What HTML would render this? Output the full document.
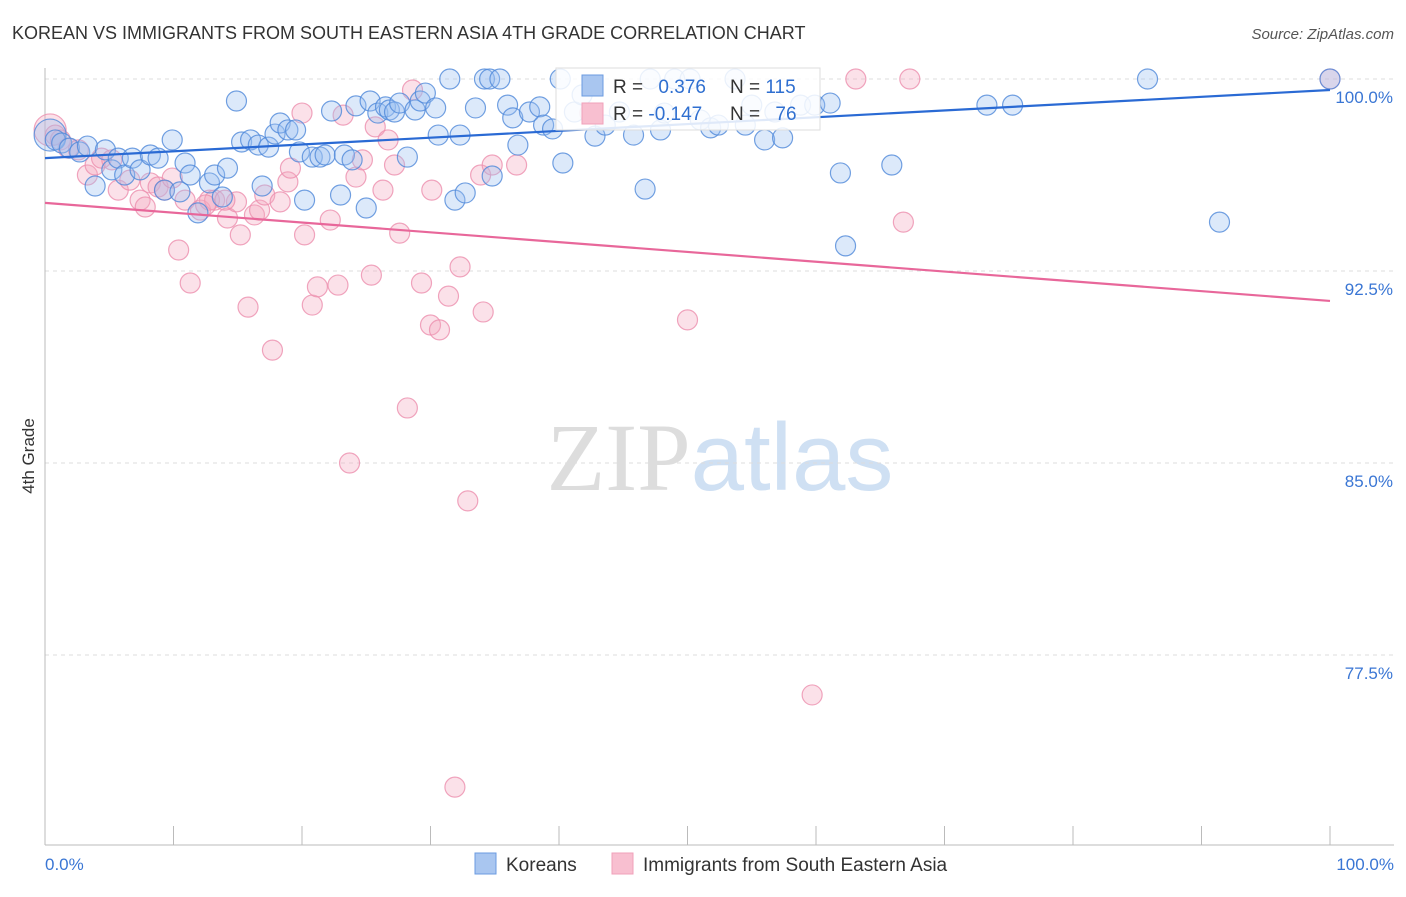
<!DOCTYPE html>
<html><head><meta charset="utf-8">
<style>
body{margin:0;background:#fff;font-family:"Liberation Sans",sans-serif;}
svg text{font-family:"Liberation Sans",sans-serif;}
</style></head>
<body>
<svg id="chart" width="1406" height="892" xmlns="http://www.w3.org/2000/svg">
<text x="12" y="39" font-size="18" fill="#333">KOREAN VS IMMIGRANTS FROM SOUTH EASTERN ASIA 4TH GRADE CORRELATION CHART</text>
<text x="1394" y="39" font-size="15" fill="#555" text-anchor="end" font-style="italic">Source: ZipAtlas.com</text>
<text x="720" y="490" font-size="96" text-anchor="middle"><tspan fill="#ddd" font-family="Liberation Serif">ZIP</tspan><tspan fill="#cfe0f3">atlas</tspan></text>
<g id="grid"></g>
<g id="axes"></g>
<g id="pts"></g>
<g id="trends"></g>
<text transform="translate(34,456) rotate(-90)" font-size="17" fill="#333" text-anchor="middle">4th Grade</text>
<g>
<rect x="556" y="68" width="264" height="62" fill="#fff" fill-opacity="0.85" stroke="#ddd"/>
<rect x="582" y="75" width="21" height="21" fill="#a9c6f0" stroke="#6b9be0"/>
<rect x="582" y="103" width="21" height="21" fill="#f8bfd0" stroke="#f0a0ba"/>
<text x="613" y="93" font-size="19" fill="#333">R = <tspan fill="#2f6fd0" dx="10">0.376</tspan></text>
<text x="730" y="93" font-size="19" fill="#333">N = <tspan fill="#2f6fd0">115</tspan></text>
<text x="613" y="120" font-size="19" fill="#333">R = <tspan fill="#2f6fd0">-0.147</tspan></text>
<text x="730" y="120" font-size="19" fill="#333">N = <tspan fill="#2f6fd0" dx="10">76</tspan></text>
</g>
<g>
<rect x="475" y="853" width="21" height="21" fill="#a9c6f0" stroke="#6b9be0"/>
<text x="506" y="871" font-size="19" fill="#333">Koreans</text>
<rect x="612" y="853" width="21" height="21" fill="#f8bfd0" stroke="#f0a0ba"/>
<text x="643" y="871" font-size="19" fill="#333">Immigrants from South Eastern Asia</text>
</g>
</svg>
<script>
const yTicks=[100,92.5,85,77.5];
const yTickLabels=["100.0%","92.5%","85.0%","77.5%"];
const xTickLabels=["0.0%","100.0%"];
const koreanX=[0.4,0.8,1.3,1.9,2.7,3.3,3.9,4.7,5.2,5.7,6.2,6.8,7.4,8.2,8.8,9.3,9.9,10.5,10.9,11.3,11.9,12.8,13.2,13.8,14.2,14.9,15.3,16.0,16.6,16.9,17.4,17.9,18.3,18.9,19.5,19.8,20.2,20.8,21.4,21.8,22.3,23.0,23.3,23.9,24.2,25.0,25.3,25.9,26.5,26.8,27.2,27.6,28.2,28.8,29.2,29.6,30.4,30.6,31.5,31.9,32.3,32.7,33.5,34.2,34.6,34.8,35.4,36.0,36.4,36.8,37.7,38.5,38.8,39.5,40.1,40.3,41.2,41.8,42.8,43.6,44.7,45.8,46.7,47.1,47.9,48.2,49.0,50.2,51.0,51.8,52.4,53.7,54.5,55.0,56.0,56.8,57.4,58.8,59.9,61.1,61.9,62.3,65.9,73.3,75.3,85.8,91.4,100];
const koreanY=[97.81,97.62,97.5,97.3,97.15,97.38,95.82,97.23,96.45,96.91,96.25,96.91,96.45,97.03,96.91,95.66,97.62,95.59,96.72,96.25,94.77,95.94,96.25,95.39,96.52,99.14,97.54,97.62,97.42,95.82,97.34,97.85,98.28,98.01,98.01,97.15,95.27,96.95,96.95,97.03,98.75,95.47,97.03,96.84,98.95,94.96,99.14,98.67,98.91,98.79,98.71,99.06,96.95,98.79,99.14,99.45,98.87,97.81,100,95.27,97.81,95.55,98.87,100,100,96.21,100,98.98,98.48,97.42,98.71,98.91,98.2,98.05,100,96.72,98.71,99.38,97.77,98.2,98.71,97.81,95.7,100,98.01,98.67,100,100,98.4,98.09,98.2,100,98.2,98.98,97.62,98.71,97.7,98.98,98.98,99.06,96.33,93.48,96.64,98.98,98.98,100,94.41,100];
const seaX=[0.4,0.8,1.2,1.8,2.6,3.3,3.9,4.4,5.2,5.7,6.6,7.4,7.8,8.2,8.8,9.3,9.9,10.4,10.9,11.3,12.1,12.8,13.2,14.2,14.9,15.2,15.8,16.3,16.7,17.1,17.7,18.3,18.9,19.1,20.0,20.2,20.8,21.2,22.2,22.8,23.2,23.7,24.2,24.7,25.4,25.7,26.3,26.7,27.2,27.6,28.2,28.6,29.3,30.0,30.1,30.7,31.4,32.3,32.9,33.9,34.1,34.8,36.7,31.9,50.0,59.7,63.1,66.8,67.3,100,42.4,12.5,14.0];
const seaY=[98.01,97.81,97.62,97.3,97.23,96.25,96.64,96.91,96.84,95.66,96.05,95.27,95.0,95.94,95.78,95.66,96.13,93.32,95.27,92.03,94.88,95.27,95.27,94.57,95.2,93.91,91.09,94.69,94.88,95.47,89.41,95.2,95.98,96.52,98.67,93.91,91.17,91.88,94.49,91.95,98.59,85.0,96.17,96.84,92.34,98.13,95.66,97.62,96.64,93.98,87.15,99.57,92.03,90.39,95.66,90.2,91.52,92.66,83.52,96.25,90.9,96.64,96.64,72.34,90.59,75.94,100,94.41,100,100,98.67,95.08,95.27];
const koreanTrend=[96.91,99.57];
const seaTrend=[95.16,91.33];

const NS="http://www.w3.org/2000/svg";
const L=45,R=1330,TOP=68,BOT=845;
const sx=v=>L+v*(R-L)/100;
const sy=v=>79+(100-v)*25.6;
function mk(tag,attrs,parent){const e=document.createElementNS(NS,tag);for(const k in attrs)e.setAttribute(k,attrs[k]);parent.appendChild(e);return e;}
const grid=document.getElementById('grid'),axes=document.getElementById('axes'),pts=document.getElementById('pts'),tr=document.getElementById('trends');
yTicks.forEach((t,i)=>{
 const g=mk('line',{x1:L,x2:1394,y1:sy(t),y2:sy(t),stroke:'#ddd','stroke-dasharray':'4,4'},grid);
 
 
 const tx=mk('text',{x:1393,y:sy(t)+24,'font-size':17,fill:'#3a76d4','text-anchor':'end'},axes);
 tx.textContent=yTickLabels[i];
 
 
});
const ya=mk('line',{x1:L,x2:L,y1:TOP,y2:BOT,stroke:'#bbb'},axes);


const xa=mk('line',{x1:L,x2:1394,y1:BOT,y2:BOT,stroke:'#bbb'},axes);


for(let i=0;i<=10;i++){
 const tk=mk('line',{x1:sx(i*10),x2:sx(i*10),y1:826,y2:BOT,stroke:'#bbb'},axes);
 
 
}
[[0,'start',45],[100,'end',1394]].forEach((p,i)=>{
 const t=mk('text',{x:p[2],y:870,'font-size':17,fill:'#3a76d4','text-anchor':p[1]},axes);
 t.textContent=xTickLabels[i];
 
 
});
function dots(X,Y,fill,stroke,name){
 X.forEach((x,i)=>{
  const c=mk('circle',{cx:sx(x),cy:sy(Y[i]),r:i===0?16:10,fill:fill,'fill-opacity':0.35,stroke:stroke,'stroke-opacity':0.8,'stroke-width':1.2},pts);
  
  
 });
}
dots(seaX,seaY,'#f4a8c0','#ec8fae','sea-point');
dots(koreanX,koreanY,'#9cc0f0','#4f88da','korean-point');
const l1=mk('line',{x1:sx(0),x2:sx(100),y1:sy(koreanTrend[0]),y2:sy(koreanTrend[1]),stroke:'#2a6ad4','stroke-width':2.2},tr);


const l2=mk('line',{x1:sx(0),x2:sx(100),y1:sy(seaTrend[0]),y2:sy(seaTrend[1]),stroke:'#e8679a','stroke-width':2.2},tr);


</script>
</body></html>
